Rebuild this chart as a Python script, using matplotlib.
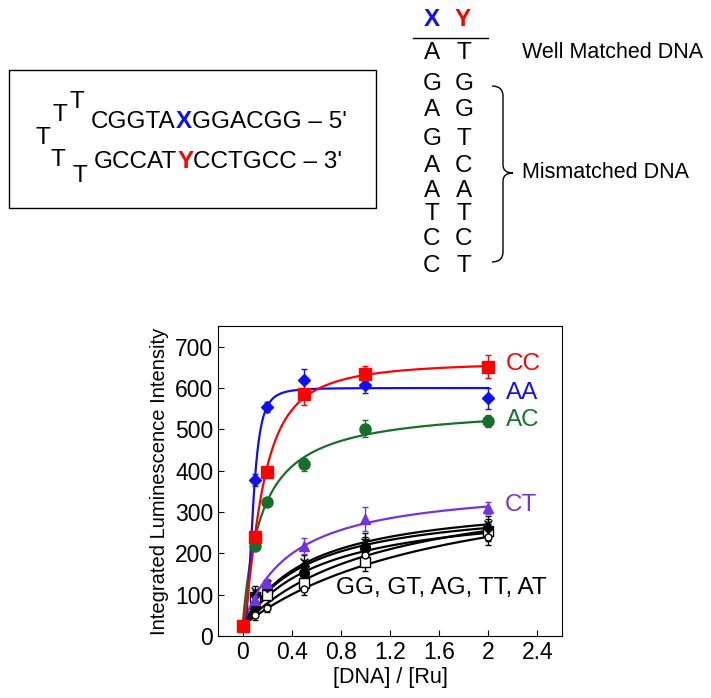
import matplotlib
matplotlib.use("Agg")
import matplotlib.pyplot as plt
import numpy as np
from matplotlib.patches import Rectangle, PathPatch
from matplotlib.path import Path

plt.rcParams['font.family'] = ['Liberation Sans', 'DejaVu Sans']

# ---------------- data ----------------
ratio = [0, 0.1, 0.2, 0.5, 1, 2]

cc = [25, 240, 397, 585, 635, 652]
cc_err = [0, 0, 0, 27, 18, 28]
aa = [25, 377, 553, 620, 607, 575]
aa_err = [0, 15, 12, 25, 20, 25]
ac = [25, 218, 325, 415, 502, 520]
ac_err = [0, 0, 10, 15, 20, 15]
ct = [25, 87, 129, 218, 283, 310]
ct_err = [0, 10, 10, 20, 28, 15]

gg = [25, 69, 115, 153, 212, 250]
gt = [25, 95, 99, 128, 180, 255]
ag = [25, 50, 67, 113, 195, 240]
tt = [25, 100, 118, 170, 218, 262]
at = [25, 110, 125, 180, 228, 270]
blk_err = [0, 12, 10, 15, 22, 20]

# fit parameters (y0 + A * x^n / (K^n + x^n))
fit_names = ["CC", "AA", "AC", "CT", "GG", "GT", "AG", "TT", "AT"]
fit_A = [640, 575, 533, 345, 297, 361, 400, 300, 311]
fit_K = [0.154, 0.0854, 0.154, 0.393, 0.643, 1.14, 1.72, 0.536, 0.536]
fit_n = [1.55, 2.9, 1.0, 1.0, 1.0, 1.0, 1.0, 1.0, 1.0]
fit_y0 = 25

xx_col = ["A", "G", "A", "G", "A", "A", "T", "C", "C"]
yy_col = ["T", "G", "G", "T", "C", "A", "T", "C", "T"]

RED, BLUE, GREEN, PURPLE = "#ff0000", "#1010ee", "#17702a", "#7433e0"
FS = 17.5

fig = plt.figure(figsize=(7.11, 6.98), dpi=100)

# ---------------- overlay for the scheme ----------------
ov = fig.add_axes([0, 0, 1, 1])
ov.set_xlim(0, 711)
ov.set_ylim(698, 0)
ov.axis("off")
r = fig.canvas.get_renderer()


def seq(x, y, parts, size=FS):
    for s, c, w in parts:
        t = ov.text(x, y, s, color=c, fontweight=w, fontsize=size,
                    ha="left", va="center")
        x += t.get_window_extent(r).width


ov.add_patch(Rectangle((9, 70), 367, 138, fill=False, lw=1.0, ec="black"))
for tx, ty in [(77, 102), (60, 115), (43, 138), (58, 160), (80, 176)]:
    ov.text(tx, ty, "T", fontsize=FS, ha="center", va="center")
seq(91, 122, [("CGGTA", "black", "normal"), ("X", BLUE, "bold"),
              ("GGACGG – 5'", "black", "normal")])
seq(94, 162, [("GCCAT", "black", "normal"), ("Y", RED, "bold"),
              ("CCTGCC – 3'", "black", "normal")])

ov.text(432, 20, "X", color=BLUE, fontweight="bold", fontsize=FS, ha="center", va="center")
ov.text(463, 20, "Y", color=RED, fontweight="bold", fontsize=FS, ha="center", va="center")
ov.plot([413, 488], [38, 38], color="black", lw=1.0)
rows_y = [53, 84, 110, 139, 166, 191, 214, 239, 266]
for a, b, ry in zip(xx_col, yy_col, rows_y):
    ov.text(432, ry, a, fontsize=FS, ha="center", va="center")
    ov.text(464, ry, b, fontsize=FS, ha="center", va="center")
ov.text(522, 53, "Well Matched DNA", fontsize=15.5, ha="left", va="center")
ov.text(522, 173, "Mismatched DNA", fontsize=15.5, ha="left", va="center")

brace = Path([(492, 86), (503, 86), (503, 96), (503, 165), (503, 173), (513, 173),
              (503, 173), (503, 181), (503, 252), (503, 262), (492, 262)],
             [Path.MOVETO, Path.CURVE3, Path.CURVE3, Path.LINETO, Path.CURVE3, Path.CURVE3,
              Path.CURVE3, Path.CURVE3, Path.LINETO, Path.CURVE3, Path.CURVE3])
ov.add_patch(PathPatch(brace, fill=False, lw=1.0, ec="black"))

# ---------------- titration plot ----------------
ax = fig.add_axes([218 / 711, 62 / 698, 344 / 711, 310 / 698])
xf = np.linspace(0, 2, 400)


def fit(i):
    n = fit_n[i]
    return fit_y0 + fit_A[i] * xf ** n / (fit_K[i] ** n + xf ** n)


black = [(gg, "o", "black", 7), (gt, "s", "white", 7), (ag, "o", "white", 5),
         (tt, "D", "black", 5), (at, "x", "black", 6)]
for k, (ys, m, fc, ms) in enumerate(black):
    ax.plot(xf, fit(4 + k), color="black", lw=1.6, zorder=2)
    ax.errorbar(ratio[1:], ys[1:], yerr=blk_err[1:], fmt=m, color="black", mfc=fc,
                mec="black", ms=ms, capsize=2.5, elinewidth=1, zorder=3)

series = [(ct, ct_err, PURPLE, "^", 7, 3), (ac, ac_err, GREEN, "o", 8, 2),
          (aa, aa_err, BLUE, "D", 6, 1), (cc, cc_err, RED, "s", 9, 0)]
for ys, es, col, m, ms, fi in series:
    ax.plot(xf, fit(fi), color=col, lw=1.6, zorder=4)
    ax.errorbar(ratio, ys, yerr=es, fmt=m, color=col, ms=ms, capsize=2.5,
                elinewidth=1, zorder=5)

ax.text(2.14, 659, "CC", color=RED, fontsize=FS, va="center")
ax.text(2.14, 588, "AA", color=BLUE, fontsize=FS, va="center")
ax.text(2.14, 523, "AC", color=GREEN, fontsize=FS, va="center")
ax.text(2.13, 316, "CT", color=PURPLE, fontsize=FS, va="center")
ax.text(1.62, 117, "GG, GT, AG, TT, AT", fontsize=FS, ha="center", va="center")

ax.set_xlim(-0.2, 2.6)
ax.set_ylim(0, 750)
ax.set_xticks([0, 0.4, 0.8, 1.2, 1.6, 2, 2.4])
ax.set_xticklabels(["0", "0.4", "0.8", "1.2", "1.6", "2", "2.4"])
ax.set_yticks(range(0, 701, 100))
ax.tick_params(direction="in", labelsize=16.5, length=4)
ax.set_xlabel("[DNA] / [Ru]", fontsize=15.5, labelpad=2)
ax.set_ylabel("Integrated Luminescence Intensity", fontsize=14.5)

fig.savefig("out.png", dpi=100)
